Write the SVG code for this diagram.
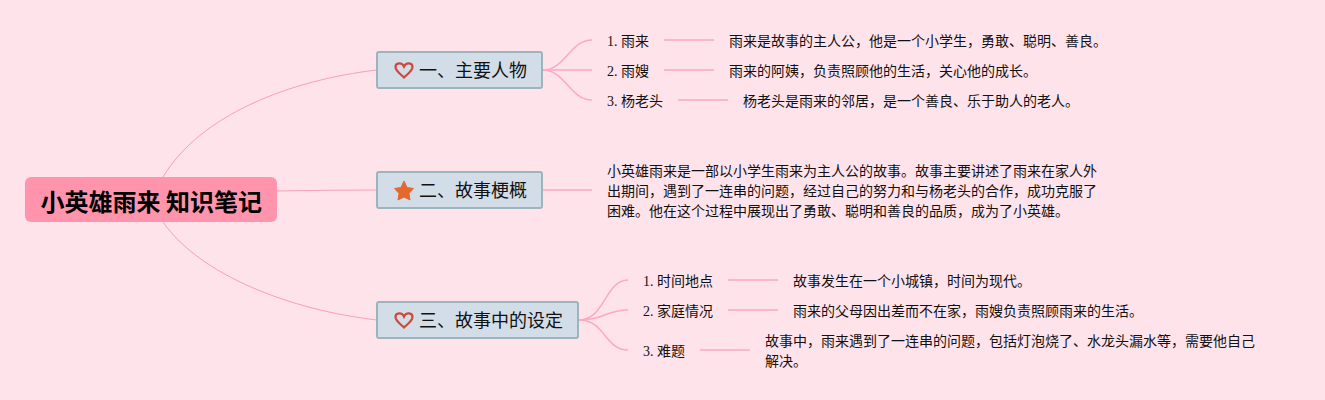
<svg xmlns="http://www.w3.org/2000/svg" width="1325" height="400" viewBox="0 0 1325 400">
<style>
.t{font-family:"Liberation Serif","Noto Sans CJK SC",serif;font-size:14px;fill:#111}
.h{font-family:"Noto Sans CJK SC","Liberation Sans",sans-serif;font-size:18px;fill:#111}
.b{fill:#d2dde8;stroke:#9db4ba;stroke-width:2}
.c{fill:none;stroke:#f8a0b8;stroke-width:1}
.c2{fill:none;stroke:#fbaac1;stroke-width:1.5}
.heart{fill:none;stroke:#cc4a3a;stroke-width:2.2}
</style>
<defs><path id="heart" class="heart" d="M0 7.500C-3 4.500 -8.500 1 -8.500 -3C-8.500 -7.500 -2 -8 0 -3.500C2 -8 8.500 -7.500 8.500 -3C8.500 1 3 4.500 0 7.500Z"/></defs>
<rect width="1325" height="400" fill="#ffe3eb"/>
<g id="connectors">
<path class="c" d="M163 177C200 115 290 80 377 70"/>
<path class="c" d="M277 191Q330 190 377 190"/>
<path class="c" d="M163 222C200 275 290 310 377 320"/>
<path class="c2" d="M543 70C565 70 570 40 592 40"/>
<path class="c2" d="M543 70H592"/>
<path class="c2" d="M543 70C565 70 570 100 592 100"/>
<path class="c2" d="M543 190H592"/>
<path class="c2" d="M579 320C605 320 605 280 628 280"/>
<path class="c2" d="M579 320C605 320 605 310 628 310"/>
<path class="c2" d="M579 320C605 320 605 350 628 350"/>
<path class="c2" d="M664 40H714"/>
<path class="c2" d="M664 70H714"/>
<path class="c2" d="M678 100H728"/>
<path class="c2" d="M728 280H778"/>
<path class="c2" d="M728 310H778"/>
<path class="c2" d="M700 350H750"/>
</g>
<g id="root">
<rect x="25" y="177" width="252" height="45" rx="6" fill="#ff94ac"/>
<text x="40.500" y="211" font-family="'Noto Sans CJK SC','Liberation Sans',sans-serif" font-size="24" font-weight="700" fill="#000">小英雄雨来 知识笔记</text>
</g>
<g id="n1">
<rect class="b" x="377" y="52" width="165" height="36" rx="2"/>
<use href="#heart" x="404" y="70"/>
<text class="h" x="419" y="77">一、主要人物</text>
</g>
<g id="n2">
<rect class="b" x="377" y="172" width="165" height="36" rx="2"/>
<path d="M404 181L407 187.500L413.500 188.500L409 193.500L410 200L404 197L398 200L399 193.500L394.500 188.500L401 187.500Z" fill="#e5682f" stroke="#e5682f" stroke-linejoin="round"/>
<text class="h" x="419" y="197">二、故事梗概</text>
</g>
<g id="n3">
<rect class="b" x="377" y="302" width="201" height="36" rx="2"/>
<use href="#heart" x="404" y="320"/>
<text class="h" x="419" y="327">三、故事中的设定</text>
</g>
<g id="a1"><text class="t" x="607" y="46">1. 雨来</text><text class="t" x="729" y="46">雨来是故事的主人公，他是一个小学生，勇敢、聪明、善良。</text></g>
<g id="a2"><text class="t" x="607" y="76">2. 雨嫂</text><text class="t" x="729" y="76">雨来的阿姨，负责照顾他的生活，关心他的成长。</text></g>
<g id="a3"><text class="t" x="607" y="106">3. 杨老头</text><text class="t" x="743" y="106">杨老头是雨来的邻居，是一个善良、乐于助人的老人。</text></g>
<g id="b1">
<text class="t" x="607" y="176">小英雄雨来是一部以小学生雨来为主人公的故事。故事主要讲述了雨来在家人外</text>
<text class="t" x="607" y="196">出期间，遇到了一连串的问题，经过自己的努力和与杨老头的合作，成功克服了</text>
<text class="t" x="607" y="216">困难。他在这个过程中展现出了勇敢、聪明和善良的品质，成为了小英雄。</text>
</g>
<g id="c1"><text class="t" x="643" y="286">1. 时间地点</text><text class="t" x="793" y="286">故事发生在一个小城镇，时间为现代。</text></g>
<g id="c2"><text class="t" x="643" y="316">2. 家庭情况</text><text class="t" x="793" y="316">雨来的父母因出差而不在家，雨嫂负责照顾雨来的生活。</text></g>
<g id="c3"><text class="t" x="643" y="356">3. 难题</text>
<text class="t" x="765" y="346">故事中，雨来遇到了一连串的问题，包括灯泡烧了、水龙头漏水等，需要他自己</text>
<text class="t" x="765" y="366">解决。</text></g>
</svg>
